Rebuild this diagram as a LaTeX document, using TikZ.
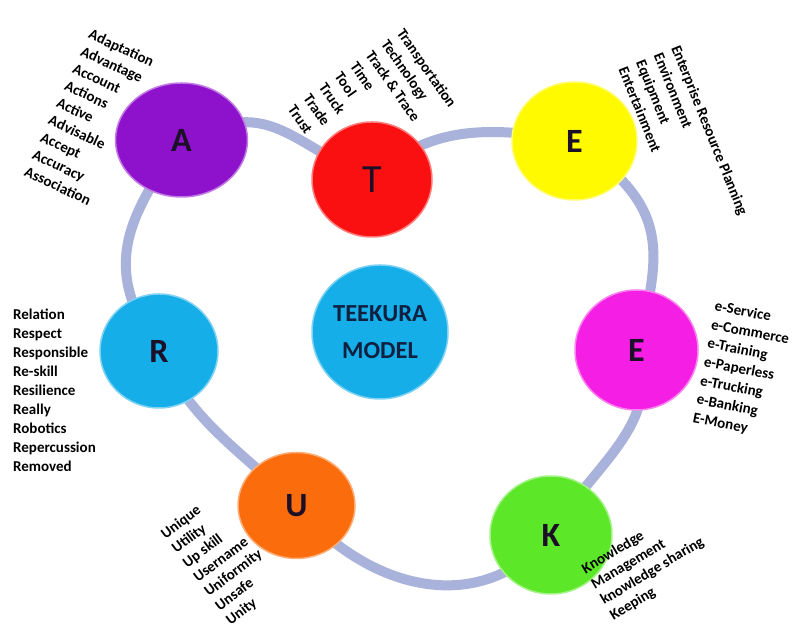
\documentclass[tikz,border=0pt]{standalone}
\usepackage{fontspec}
\setmainfont{Carlito}
\usetikzlibrary{shapes.geometric,backgrounds}
\definecolor{purpA}{RGB}{142,18,204}
\definecolor{redT}{RGB}{250,16,16}
\definecolor{yellowE}{RGB}{255,250,0}
\definecolor{magentaE}{RGB}{245,30,228}
\definecolor{greenK}{RGB}{92,232,40}
\definecolor{orangeU}{RGB}{250,108,12}
\definecolor{cyanR}{RGB}{22,174,232}
\definecolor{ringblue}{RGB}{168,178,218}
\definecolor{letter}{RGB}{28,16,40}
\definecolor{navy}{RGB}{16,32,64}

\begin{document}
\begin{tikzpicture}[x=1pt,y=1pt,
  disc/.style={ellipse,draw=#1!55!white,line width=1.5pt,fill=#1,inner sep=0pt,font=\bfseries\fontsize{34}{34}\selectfont,text=letter},
  ring/.style={draw=ringblue,line width=10pt},
  words/.style={font=\bfseries\fontsize{15}{19}\selectfont,align=left,inner sep=0pt,anchor=north west},
  tight/.style={font=\bfseries\fontsize{15}{18}\selectfont}]
\useasboundingbox (0,0) rectangle (801,626);
\node[disc=purpA,minimum width=132pt,minimum height=114pt] (A) at (181.5,486) {A};
\node[disc=redT,minimum width=120pt,minimum height=115pt,font=\fontsize{40}{40}\selectfont] (T) at (372,446.5) {T};
\node[disc=yellowE,minimum width=125pt,minimum height=118pt] (E1) at (574.5,485) {E};
\node[disc=magentaE,minimum width=123pt,minimum height=120pt] (E2) at (636.5,276) {E};
\node[disc=greenK,minimum width=122pt,minimum height=118pt] (K) at (551,91) {K};
\node[disc=orangeU,minimum width=117pt,minimum height=106pt] (U) at (296.5,120.5) {U};
\node[disc=cyanR,minimum width=118pt,minimum height=114pt] (R) at (159,275) {R};
\node[disc=cyanR,minimum width=136pt,minimum height=134pt,font=\bfseries\fontsize{24.5}{37}\selectfont,align=center,text=navy] (model) at (380,294) {TEEKURA\\MODEL};
% ring behind the discs
\begin{scope}[on background layer]
\draw[ring] (A.center) to[out=25,in=155,looseness=1.3] (T.center);
\draw[ring] (T.center) to[out=45,in=170] (E1.center);
\draw[ring] (E1.center) to[out=-35,in=75,looseness=1.3] (E2.center);
\draw[ring] (E2.center) to[out=-70,in=60] (K.center);
\draw[ring] (K.center) to[out=-130,in=-50,looseness=1.1] (U.center);
\draw[ring] (U.center) to[out=135,in=-65] (R.center);
\draw[ring] (R.center) to[out=125,in=-125,looseness=1.2] (A.center);
\end{scope}
% word lists
\node[words,rotate=-25] (alist) at (92,598) {Adaptation\\Advantage\\Account\\Actions\\Active\\Advisable\\Accept\\Accuracy\\Association};
\node[words,rotate=-55] (tlist) at (405,599) {Transportation\\Technology\\Track \& Trace\\Time\\Tool\\Truck\\Trade\\Trust};
\node[words,rotate=-68] (e1list) at (681,582) {Enterprise Resource Planning\\Environment\\Equipment\\Entertainment};
\node[words,rotate=-11] (e2list) at (716,326) {e-Service\\e-Commerce\\e-Training\\e-Paperless\\e-Trucking\\e-Banking\\E-Money};
\node[words,tight,rotate=31] (klist) at (580,61) {Knowledge\\Management\\knowledge sharing\\Keeping};
\node[words,tight,rotate=37] (ulist) at (159,95) {Unique\\Utility\\Up skill\\Username\\Uniformity\\Unsafe\\Unity};
\node[words] (rlist) at (13,317) {Relation\\Respect\\Responsible\\Re-skill\\Resilience\\Really\\Robotics\\Repercussion\\Removed};
\end{tikzpicture}
\end{document}
